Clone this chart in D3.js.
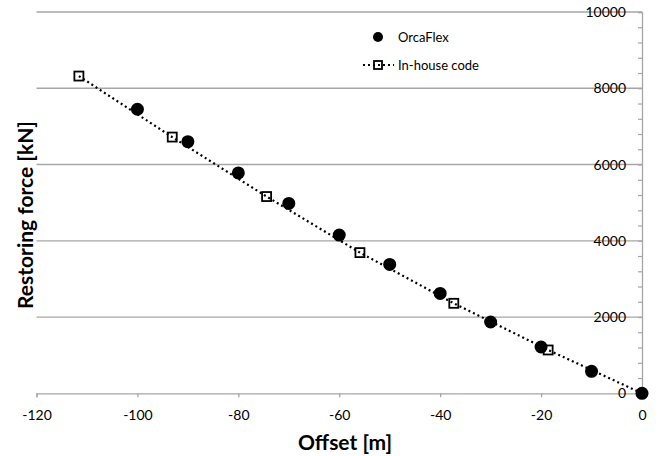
<!DOCTYPE html>
<html><head><meta charset="utf-8">
<script src="https://cdn.jsdelivr.net/npm/d3@7"></script>
<style>body{margin:0;background:#fff}svg{display:block}text{font-family:Lato,"Open Sans",sans-serif;fill:#000}</style>
</head><body><svg id="c" width="660" height="456"></svg>
<script>
const orcaOffset = [-100, -90, -80, -70, -60, -50, -40, -30, -20, -10, 0];
const orcaForce  = [7450, 6600, 5780, 4980, 4150, 3380, 2620, 1870, 1215, 577, 0];
const inhouseOffset = [-111.6, -93.1, -74.4, -55.9, -37.3, -18.6, 0];
const inhouseForce  = [8320, 6720, 5160, 3690, 2360, 1136, 0];
const xTicks = [-120, -100, -80, -60, -40, -20, 0];
const yTicks = [0, 2000, 4000, 6000, 8000, 10000];
const seriesNames = ["OrcaFlex", "In-house code"];

const svg = d3.select("#c");
const x = d3.scaleLinear().domain([-120, 0]).range([36.5, 642]);
const y = d3.scaleLinear().domain([0, 10000]).range([393.3, 12]);
const grid = "#a6a6a6";

// gridlines
svg.append("g").selectAll("line").data(yTicks.filter(d => d > 0)).join("line")
  .attr("x1", x(-120)).attr("x2", x(0)).attr("y1", d => y(d)).attr("y2", d => y(d))
  .attr("stroke", grid).attr("stroke-width", 1.3);

// x axis
const xa = svg.append("g").attr("transform", `translate(0,${y(0)})`)
  .call(d3.axisBottom(x).tickValues(xTicks).tickSize(4).tickFormat(d => String(d)));
xa.select(".domain").attr("stroke", grid).attr("stroke-width", 1.3);
xa.selectAll(".tick line").attr("stroke", grid).attr("stroke-width", 1.3);
xa.selectAll(".tick text").attr("font-size", 14).attr("font-family", "Lato").attr("y", 17).attr("dy", "0.71em").attr("fill", "#000");

// y axis (right side, at x=0)
const ya = svg.append("g").attr("transform", `translate(${x(0)},0)`)
  .call(d3.axisLeft(y).tickValues(d3.range(0, 10001, 400)).tickSize(4).tickFormat(""));
ya.select(".domain").attr("stroke", grid).attr("stroke-width", 1.3);
ya.selectAll(".tick line").attr("stroke", grid).attr("stroke-width", 1.2);
svg.append("g").selectAll("text").data(yTicks).join("text")
  .attr("x", 626).attr("y", d => y(d)).attr("dy", "0.36em")
  .attr("text-anchor", "end").attr("font-size", 14).text(d => d);

// axis titles
svg.append("text").attr("x", 345).attr("y", 450).attr("text-anchor", "middle")
  .attr("font-size", 21).attr("font-weight", "bold").text("Offset [m]");
svg.append("text").attr("transform", "translate(33,215) rotate(-90)").attr("text-anchor", "middle")
  .attr("font-size", 21).attr("font-weight", "bold").text("Restoring force [kN]");

// in-house line
const ih = inhouseOffset.map((d, i) => [d, inhouseForce[i]]);
svg.append("path").datum(ih)
  .attr("d", d3.line().x(d => x(d[0])).y(d => y(d[1])))
  .attr("fill", "none").attr("stroke", "#000").attr("stroke-width", 2.2).attr("stroke-dasharray", "2 3");
svg.append("g").selectAll("rect").data(ih.slice(0, -1)).join("rect")
  .attr("x", d => x(d[0]) - 4.5).attr("y", d => y(d[1]) - 4.5).attr("width", 9).attr("height", 9)
  .attr("fill", "none").attr("stroke", "#000").attr("stroke-width", 1.8);

// OrcaFlex points
svg.append("g").selectAll("circle").data(orcaOffset.map((d, i) => [d, orcaForce[i]])).join("circle")
  .attr("cx", d => x(d[0])).attr("cy", d => y(d[1])).attr("r", 6.5).attr("fill", "#000");

// legend
const lg = svg.append("g");
lg.append("circle").attr("cx", 378).attr("cy", 37).attr("r", 5).attr("fill", "#000");
lg.append("text").attr("x", 398).attr("y", 37).attr("dy", "0.35em").attr("font-size", 13).text(seriesNames[0]);
lg.append("line").attr("x1", 363).attr("x2", 394).attr("y1", 65).attr("y2", 65)
  .attr("stroke", "#000").attr("stroke-width", 2.2).attr("stroke-dasharray", "2 3");
lg.append("rect").attr("x", 374).attr("y", 61).attr("width", 8).attr("height", 8)
  .attr("fill", "none").attr("stroke", "#000").attr("stroke-width", 1.8);
lg.append("text").attr("x", 398).attr("y", 65).attr("dy", "0.35em").attr("font-size", 13).text(seriesNames[1]);
</script></body></html>
